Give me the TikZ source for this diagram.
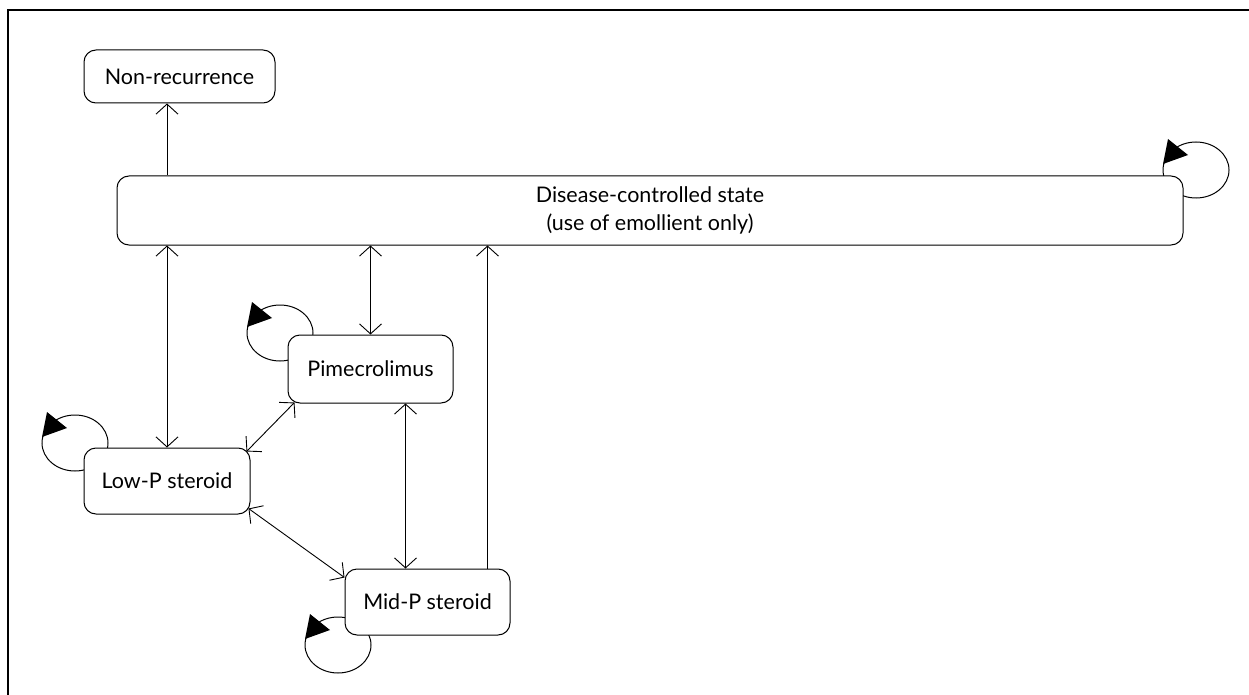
\documentclass[tikz,border=0pt]{standalone}
\usepackage{fontspec}
\setmainfont{Lato}
\usetikzlibrary{arrows.meta,calc}

\tikzset{
  statebox/.style={draw, line width=1pt, rounded corners=12pt, fill=white,
    inner sep=0pt, align=center, font=\fontsize{21.5}{28}\selectfont},
  barb/.tip={Straight Barb[length=10pt,width=22pt,line width=0.9pt]},
  link/.style={line width=0.9pt, barb-barb},
  linkto/.style={line width=0.9pt, -barb},
  selfloop/.pic={
    \draw[line width=1pt] (0,0) ellipse [x radius=33, y radius=28];
  },
  looptip/.pic={
    \fill (-28,-31) -- (-33,-6) -- (-8,-15) -- cycle;
  }
}

\begin{document}
\begin{tikzpicture}[x=1pt,y=-1pt]
  \useasboundingbox (0,0) rectangle (1249,695);

  % frame (top and left rules)
  \draw[line width=1.5pt] (8,695) -- (8,10) -- (1249,10);

  % self-transition loops, drawn first so the boxes cover their inner part
  \pic at (1196,170) {selfloop};
  \pic at (280,333) {selfloop};
  \pic at (75,443) {selfloop};
  \pic at (338,645) {selfloop};

  % states
  \node[statebox, minimum width=191pt, minimum height=53pt] (nonrec) at (179.5,76.5) {Non-recurrence};
  \node[statebox, minimum width=1066pt, minimum height=69pt] (disease) at (650,210.5)
    {Disease-controlled state\\(use of emollient only)};
  \node[statebox, minimum width=165pt, minimum height=68pt] (pime) at (370.5,369) {Pimecrolimus};
  \node[statebox, minimum width=166pt, minimum height=66pt] (lowp) at (167,481) {Low-P steroid};
  \node[statebox, minimum width=165pt, minimum height=66pt] (midp) at (427.5,602) {Mid-P steroid};

  % loop arrowheads
  \pic at (1196,170) {looptip};
  \pic at (280,333) {looptip};
  \pic at (75,443) {looptip};
  \pic at (338,645) {looptip};

  % transitions
  \draw[linkto] (lowp.north |- disease.north) -- (lowp.north |- nonrec.south);
  \draw[link] (lowp.north |- disease.south) -- (lowp.north);
  \draw[link] (pime.north |- disease.south) -- (pime.north);
  \draw[linkto] ($(midp.north)+(60,0)$) -- ($(midp.north |- disease.south)+(60,0)$);
  \draw[link] ($(pime.south)+(35,0)$) -- ($(pime.south |- midp.north)+(35,0)$);
  \draw[link] ($(pime.south west)+(7,-1)$) -- ($(lowp.north east)+(-4,4)$);
  \draw[link] ($(lowp.south east)+(-2,-6)$) -- ($(midp.north west)+(0,9)$);
\end{tikzpicture}
\end{document}
